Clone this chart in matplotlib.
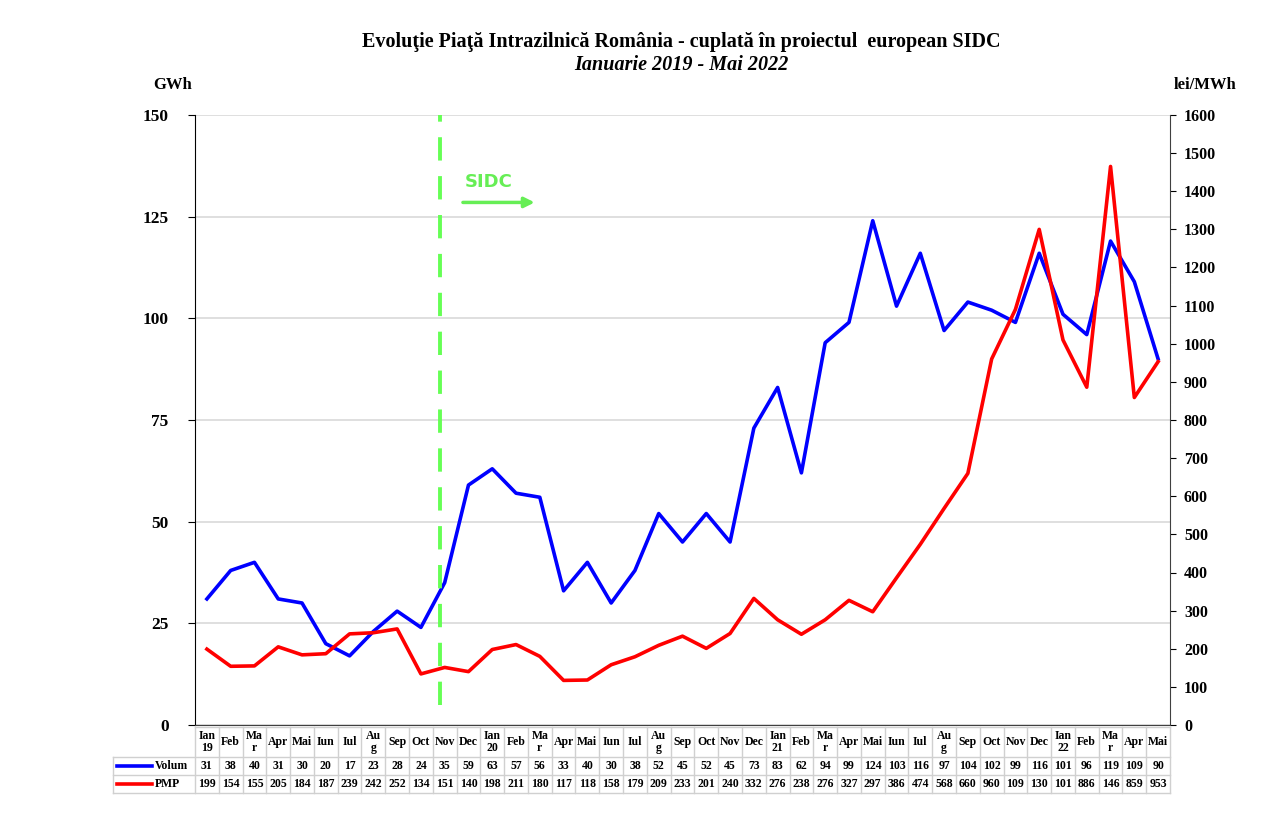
import numpy as np
import matplotlib.pyplot as plt
from matplotlib.transforms import blended_transform_factory

# Date
luni = ["Ian\n19", "Feb", "Ma\nr", "Apr", "Mai", "Iun", "Iul", "Au\ng", "Sep", "Oct", "Nov", "Dec",
        "Ian\n20", "Feb", "Ma\nr", "Apr", "Mai", "Iun", "Iul", "Au\ng", "Sep", "Oct", "Nov", "Dec",
        "Ian\n21", "Feb", "Ma\nr", "Apr", "Mai", "Iun", "Iul", "Au\ng", "Sep", "Oct", "Nov", "Dec",
        "Ian\n22", "Feb", "Ma\nr", "Apr", "Mai"]
volum = [31, 38, 40, 31, 30, 20, 17, 23, 28, 24, 35, 59,
         63, 57, 56, 33, 40, 30, 38, 52, 45, 52, 45, 73,
         83, 62, 94, 99, 124, 103, 116, 97, 104, 102, 99, 116,
         101, 96, 119, 109, 90]
pmp = [199, 154, 155, 205, 184, 187, 239, 242, 252, 134, 151, 140,
       198, 211, 180, 117, 118, 158, 179, 209, 233, 201, 240, 332,
       276, 238, 276, 327, 297, 386, 474, 568, 660, 960, 1090, 1300,
       1010, 886, 1465, 859, 953]
# in tabel apar doar primele 3 cifre
pmp_text = [str(v)[:3] for v in pmp]
sidc_start = 10  # Nov 2019

plt.rcParams['font.family'] = ['Liberation Serif', 'DejaVu Serif']

fig = plt.figure(figsize=(12.62, 8.31), dpi=100)
W, H = 1262, 831
ax = fig.add_axes([195 / W, 1 - 725 / H, (1170 - 195) / W, (725 - 115) / H])
ax2 = ax.twinx()

x = np.arange(len(luni))
ax.set_xlim(-0.5, len(luni) - 0.5)
ax.set_ylim(0, 150)
ax2.set_ylim(0, 1600)
ax.set_yticks(np.arange(0, 151, 25))
ax2.set_yticks(np.arange(0, 1601, 100))
ax.set_xticks([])

ax.grid(axis='y', color='#d9d9d9', linewidth=1.2)
ax.set_axisbelow(True)
for s in ['top']:
    ax.spines[s].set_visible(False)
    ax2.spines[s].set_visible(False)
ax.spines['left'].set_color('black')
ax2.spines['right'].set_color('#404040')
ax.spines['right'].set_visible(False)
ax.spines['bottom'].set_color('#404040')
ax2.spines['bottom'].set_visible(False)
ax2.spines['left'].set_visible(False)

ax.tick_params(axis='y', labelsize=12.5, length=5, pad=14)
ax2.tick_params(axis='y', labelsize=11.5, length=4, pad=6)
for lab in ax.get_yticklabels() + ax2.get_yticklabels():
    lab.set_fontweight('bold')

ax.plot(x, volum, color='#0000ff', linewidth=2.6, zorder=3)
ax2.plot(x, pmp, color='#ff0000', linewidth=2.6, zorder=3)

# linia SIDC
ax.plot([sidc_start - 0.2, sidc_start - 0.2], [5, 150], color='#66ff55', linewidth=2.8,
        linestyle=(0, (6, 4)), zorder=4)
ax.text(sidc_start + 0.85, 133.5, "SIDC", color='#66ee55', fontsize=13, fontweight='bold',
        family='DejaVu Sans', ha='left', va='center')
ax.annotate("", xy=(sidc_start + 3.9, 128.5), xytext=(sidc_start + 0.65, 128.5),
            arrowprops=dict(arrowstyle='-|>', color='#66ee55', lw=2.5, mutation_scale=15))

# titluri
fig.text(0.54, 1 - 42 / H, "Evoluţie Piaţă Intrazilnică România - cuplată în proiectul  european SIDC",
         ha='center', va='center', fontsize=14.5, fontweight='bold')
fig.text(0.54, 1 - 65 / H, "Ianuarie 2019 - Mai 2022", ha='center', va='center',
         fontsize=14.5, fontweight='bold', style='italic')
fig.text(153 / W, 1 - 85 / H, "GWh", ha='left', va='center', fontsize=12, fontweight='bold')
fig.text(1236 / W, 1 - 85 / H, "lei/MWh", ha='right', va='center', fontsize=12, fontweight='bold')

# tabel de date sub grafic
tr = blended_transform_factory(ax.transData, fig.transFigure)
rows_px = [727, 757, 775, 793]
ry = [1 - r / H for r in rows_px]
gray = '#d0d0d0'
for xe in np.arange(-0.5, len(luni)):
    ax.plot([xe, xe], [ry[0], ry[3]], color=gray, lw=1, transform=tr, clip_on=False)
for k, yv in enumerate(ry):
    x0 = 195 / W if k == 0 else 113 / W
    fig.add_artist(plt.Line2D([x0, 1170 / W], [yv, yv], color=gray, lw=1))
fig.add_artist(plt.Line2D([113 / W, 113 / W], [ry[1], ry[3]], color=gray, lw=1))

for i in range(len(luni)):
    ax.text(i, (ry[0] + ry[1]) / 2, luni[i], transform=tr, ha='center', va='center',
            fontsize=8.5, fontweight='bold', linespacing=1.0, clip_on=False)
    ax.text(i, (ry[1] + ry[2]) / 2, str(volum[i]), transform=tr, ha='center', va='center',
            fontsize=8.5, fontweight='bold', clip_on=False)
    ax.text(i, (ry[2] + ry[3]) / 2, pmp_text[i], transform=tr, ha='center', va='center',
            fontsize=8.5, fontweight='bold', clip_on=False)

for k, (lab, col) in enumerate([("Volum", '#0000ff'), ("PMP", '#ff0000')]):
    yv = (ry[1 + k] + ry[2 + k]) / 2
    fig.add_artist(plt.Line2D([117 / W, 152 / W], [yv, yv], color=col, lw=2.6))
    fig.text(155 / W, yv, lab, ha='left', va='center', fontsize=8.5, fontweight='bold')

fig.savefig("out.png", dpi=100)
